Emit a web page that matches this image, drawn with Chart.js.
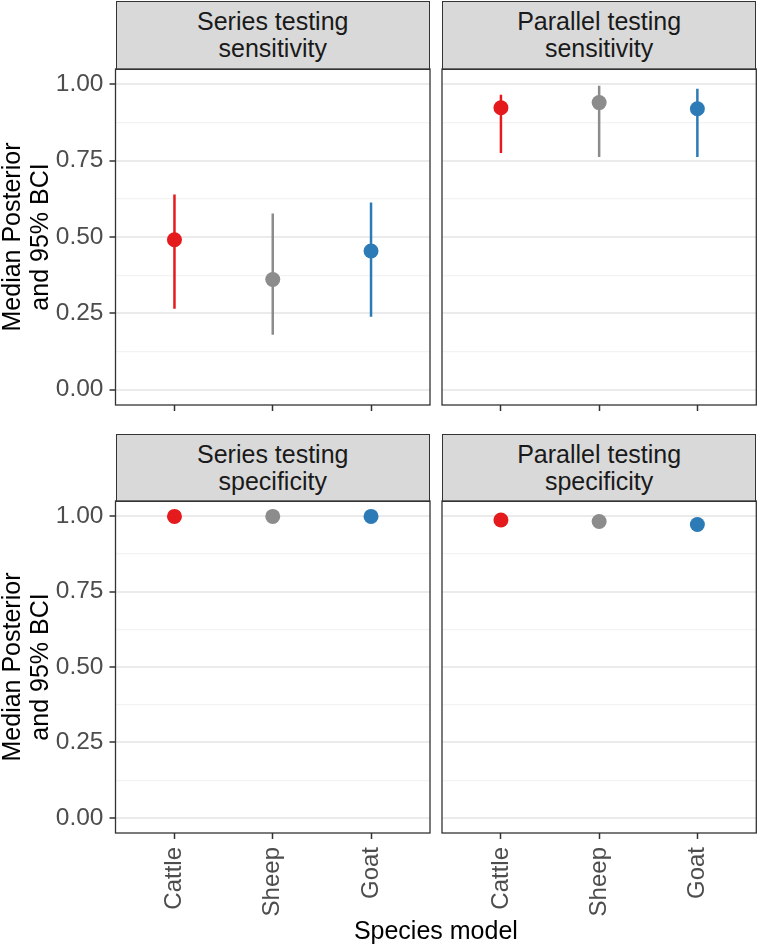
<!DOCTYPE html>
<html>
<head>
<meta charset="utf-8">
<script src="https://cdn.jsdelivr.net/npm/chart.js@4.4.1/dist/chart.umd.min.js"></script>
<style>
  body {
    margin: 0;
    width: 757px;
    height: 951px;
    background: #fff;
    position: relative;
    overflow: hidden;
    font-family: "Liberation Sans", Arial, sans-serif;
  }
  canvas, .strip, .y-title, .x-title { position: absolute; }
  .strip {
    box-sizing: border-box;
    background: #d9d9d9;
    border: 1.3px solid #333;
    color: #1a1a1a;
    font-size: 25px;
    line-height: 27px;
    text-align: center;
    display: flex;
    align-items: center;
    justify-content: center;
  }
  .y-title {
    width: 320px;
    height: 56px;
    font-size: 25px;
    line-height: 28px;
    text-align: center;
    color: #000;
    transform: rotate(-90deg);
  }
  .x-title {
    width: 400px;
    font-size: 25px;
    line-height: 28px;
    text-align: center;
    color: #000;
  }
</style>
</head>
<body>
<script>
//#region data
const species = ["Cattle", "Sheep", "Goat"];
const speciesColors = ["#E41A1C", "#8C8C8C", "#2C7BB6"];

const stripTitles = [
  ["Series testing", "sensitivity"],
  ["Parallel testing", "sensitivity"],
  ["Series testing", "specificity"],
  ["Parallel testing", "specificity"],
];

// median posterior + 95% BCI, per species
const seriesSensMedian = [0.491, 0.361, 0.454];
const seriesSensLower = [0.265, 0.180, 0.239];
const seriesSensUpper = [0.639, 0.577, 0.613];

const parallelSensMedian = [0.923, 0.940, 0.920];
const parallelSensLower = [0.775, 0.762, 0.762];
const parallelSensUpper = [0.966, 0.995, 0.985];

const seriesSpecMedian = [0.999, 0.999, 0.999];
const seriesSpecLower = [0.996, 0.996, 0.996];
const seriesSpecUpper = [1.0, 1.0, 1.0];

const parallelSpecMedian = [0.987, 0.982, 0.972];
const parallelSpecLower = [0.976, 0.969, 0.955];
const parallelSpecUpper = [0.994, 0.991, 0.985];

const yMajorTicks = [0, 0.25, 0.5, 0.75, 1];
const yMinorTicks = [0.125, 0.375, 0.625, 0.875];
const xTicks = [1, 2, 3];
//#endregion data

const yAxisTitle = ["Median Posterior", "and 95% BCI"];
const xAxisTitle = "Species model";

// panel boxes (plot area, page px)
const panels = [
  { strip: stripTitles[0], med: seriesSensMedian, lo: seriesSensLower, hi: seriesSensUpper,
    L: 115.5, T: 69, R: 430, B: 405, stripTop: 0.5, yLabels: true, xLabels: false },
  { strip: stripTitles[1], med: parallelSensMedian, lo: parallelSensLower, hi: parallelSensUpper,
    L: 442, T: 69, R: 756.3, B: 405, stripTop: 0.5, yLabels: false, xLabels: false },
  { strip: stripTitles[2], med: seriesSpecMedian, lo: seriesSpecLower, hi: seriesSpecUpper,
    L: 115.5, T: 501, R: 430, B: 833, stripTop: 434, yLabels: true, xLabels: true },
  { strip: stripTitles[3], med: parallelSpecMedian, lo: parallelSpecLower, hi: parallelSpecUpper,
    L: 442, T: 501, R: 756.3, B: 833, stripTop: 434, yLabels: false, xLabels: true },
];

const isMajor = (v) => yMajorTicks.some((t) => Math.abs(t - v) < 1e-6);
const allYTicks = [...yMajorTicks, ...yMinorTicks].sort((a, b) => a - b);

const panelBorder = {
  id: "panelBorder",
  afterDraw(chart) {
    const { ctx, chartArea: a } = chart;
    ctx.save();
    ctx.strokeStyle = "#333";
    ctx.lineWidth = 1.3;
    ctx.strokeRect(a.left, a.top, a.right - a.left, a.bottom - a.top);
    ctx.restore();
  },
};

Chart.defaults.font.family = '"Liberation Sans", Arial, sans-serif';

panels.forEach((p) => {
  // strip header
  const strip = document.createElement("div");
  strip.className = "strip";
  strip.style.left = p.L + "px";
  strip.style.top = p.stripTop + "px";
  strip.style.width = p.R - p.L + "px";
  strip.style.height = p.T - p.stripTop + 0.6 + "px";
  strip.innerHTML = p.strip.join("<br>");
  document.body.appendChild(strip);

  const cx = p.yLabels ? 30 : Math.floor(p.L) - 2;
  const cy = p.T - 30;
  const cRight = Math.min(757, Math.ceil(p.R) + 10);
  const cBottom = p.xLabels ? 951 : p.B + 24;

  const canvas = document.createElement("canvas");
  canvas.width = cRight - cx;
  canvas.height = cBottom - cy;
  canvas.style.left = cx + "px";
  canvas.style.top = cy + "px";
  document.body.appendChild(canvas);

  const points = species.map((s, i) => ({ x: xTicks[i], y: p.med[i] }));
  const bars = species.map((s, i) => ({
    data: [
      { x: xTicks[i], y: p.lo[i] },
      { x: xTicks[i], y: p.hi[i] },
    ],
    showLine: true,
    borderColor: speciesColors[i],
    borderWidth: 2.5,
    pointRadius: 0,
    order: 1,
  }));

  new Chart(canvas.getContext("2d"), {
    type: "scatter",
    data: {
      datasets: [
        {
          data: points,
          pointRadius: 7.5,
          pointBackgroundColor: speciesColors,
          pointBorderWidth: 0,
          order: 0,
        },
        ...bars,
      ],
    },
    options: {
      responsive: false,
      animation: false,
      devicePixelRatio: 1,
      layout: {
        autoPadding: false,
        padding: { left: 0, top: p.T - cy, right: cRight - p.R, bottom: 0 },
      },
      plugins: {
        legend: { display: false },
        tooltip: { enabled: false },
      },
      scales: {
        x: {
          type: "linear",
          min: 0.4,
          max: 3.6,
          afterBuildTicks: (scale) => {
            scale.ticks = xTicks.map((v) => ({ value: v }));
          },
          afterFit: (scale) => {
            scale.height = cBottom - p.B;
          },
          border: { display: false },
          grid: {
            drawOnChartArea: false,
            drawTicks: true,
            tickLength: 6,
            tickColor: "#333",
            tickWidth: 1.5,
          },
          ticks: {
            display: p.xLabels,
            autoSkip: false,
            minRotation: 90,
            maxRotation: 90,
            padding: 8,
            color: "#4d4d4d",
            font: { size: 24 },
            callback: (v) => species[xTicks.indexOf(v)] ?? "",
          },
        },
        y: {
          type: "linear",
          min: -0.05,
          max: 1.05,
          afterBuildTicks: (scale) => {
            scale.ticks = allYTicks.map((v) => ({ value: v }));
          },
          afterFit: (scale) => {
            scale.width = p.L - cx;
          },
          border: { display: false },
          grid: {
            color: (ctx) => (isMajor(ctx.tick.value) ? "#ebebeb" : "#f3f3f3"),
            lineWidth: (ctx) => (isMajor(ctx.tick.value) ? 2 : 1.2),
            drawTicks: p.yLabels,
            tickLength: 6,
            tickColor: (ctx) => (isMajor(ctx.tick.value) ? "#333" : "rgba(0,0,0,0)"),
            tickWidth: 1.5,
          },
          ticks: {
            display: p.yLabels,
            autoSkip: false,
            padding: 6,
            color: "#4d4d4d",
            font: { size: 24.5 },
            callback: (v) => (isMajor(v) ? v.toFixed(2) : ""),
          },
        },
      },
    },
    plugins: [panelBorder],
  });

  // y axis title for left column
  if (p.yLabels) {
    const yt = document.createElement("div");
    yt.className = "y-title";
    const cxMid = 25;
    const cyMid = (p.T + p.B) / 2;
    yt.style.left = cxMid - 160 + "px";
    yt.style.top = cyMid - 28 + "px";
    yt.innerHTML = yAxisTitle.join("<br>");
    document.body.appendChild(yt);
  }
});

const xt = document.createElement("div");
xt.className = "x-title";
xt.style.left = (115.5 + 756.3) / 2 - 200 + "px";
xt.style.top = "916px";
xt.textContent = xAxisTitle;
document.body.appendChild(xt);
</script>
</body>
</html>
